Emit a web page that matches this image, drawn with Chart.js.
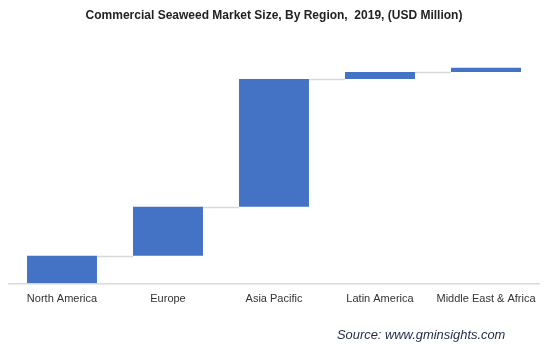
<!DOCTYPE html>
<html>
<head>
<meta charset="utf-8">
<script src="https://cdn.jsdelivr.net/npm/chart.js@4.4.1/dist/chart.umd.min.js"></script>
<style>
  html, body { margin: 0; padding: 0; background: #fff; }
  #wrap { position: relative; width: 560px; height: 344px; }
  #source {
    position: absolute; left: 337px; top: 327px;
    font: italic 12.9px "Liberation Sans", Arial, sans-serif;
    color: #1f2a44; white-space: nowrap;
  }
</style>
</head>
<body>
<div id="wrap">
  <canvas id="seaweedChart" width="560" height="344"></canvas>
  <div id="source">Source: www.gminsights.com</div>
</div>
<script>
// Region contributions, USD Million
const regions = ["North America", "Europe", "Asia Pacific", "Latin America", "Middle East & Africa"];
const regionValues = [2040, 3640, 9500, 520, 300];

// waterfall: each bar floats from the running total to the new total
const floatingBars = [];
let running = 0;
regionValues.forEach(v => {
  floatingBars.push([running, running + v]);
  running += v;
});

// grey step lines between bars
const connectorPlugin = {
  id: "connectors",
  afterDatasetsDraw(chart) {
    const ctx = chart.ctx;
    const meta = chart.getDatasetMeta(0);
    const y = chart.scales.y;
    ctx.save();
    ctx.strokeStyle = "#d9d9d9";
    ctx.lineWidth = 1.5;
    for (let i = 0; i < meta.data.length - 1; i++) {
      const a = meta.data[i], b = meta.data[i + 1];
      const py = Math.round(y.getPixelForValue(floatingBars[i][1])) + 0.5;
      ctx.beginPath();
      ctx.moveTo(a.x + a.width / 2, py);
      ctx.lineTo(b.x - b.width / 2, py);
      ctx.stroke();
    }
    ctx.restore();
  }
};

const ctx = document.getElementById("seaweedChart").getContext("2d");
new Chart(ctx, {
  type: "bar",
  data: {
    labels: regions,
    datasets: [{
      data: floatingBars,
      backgroundColor: "#4472C4",
      borderWidth: 0,
      barPercentage: 1,
      categoryPercentage: 0.66
    }]
  },
  options: {
    responsive: false,
    animation: false,
    layout: { padding: { left: 9, right: 21, top: 0, bottom: 28.5 } },
    plugins: {
      legend: { display: false },
      tooltip: { enabled: false },
      title: {
        display: true,
        text: "Commercial Seaweed Market Size, By Region,  2019, (USD Million)",
        color: "#222",
        font: { family: "'Liberation Sans', Arial, sans-serif", size: 12, weight: "bold" },
        padding: { top: 8, bottom: 32 }
      }
    },
    scales: {
      x: {
        grid: { display: false, drawTicks: false },
        border: { display: true, color: "#d9d9d9", width: 1.5 },
        ticks: {
          color: "#333",
          padding: 9.5,
          maxRotation: 0,
          autoSkip: false,
          font: { family: "'Liberation Sans', Arial, sans-serif", size: 11 }
        }
      },
      y: {
        display: false,
        min: 0,
        max: 17000
      }
    }
  },
  plugins: [connectorPlugin]
});
</script>
</body>
</html>
